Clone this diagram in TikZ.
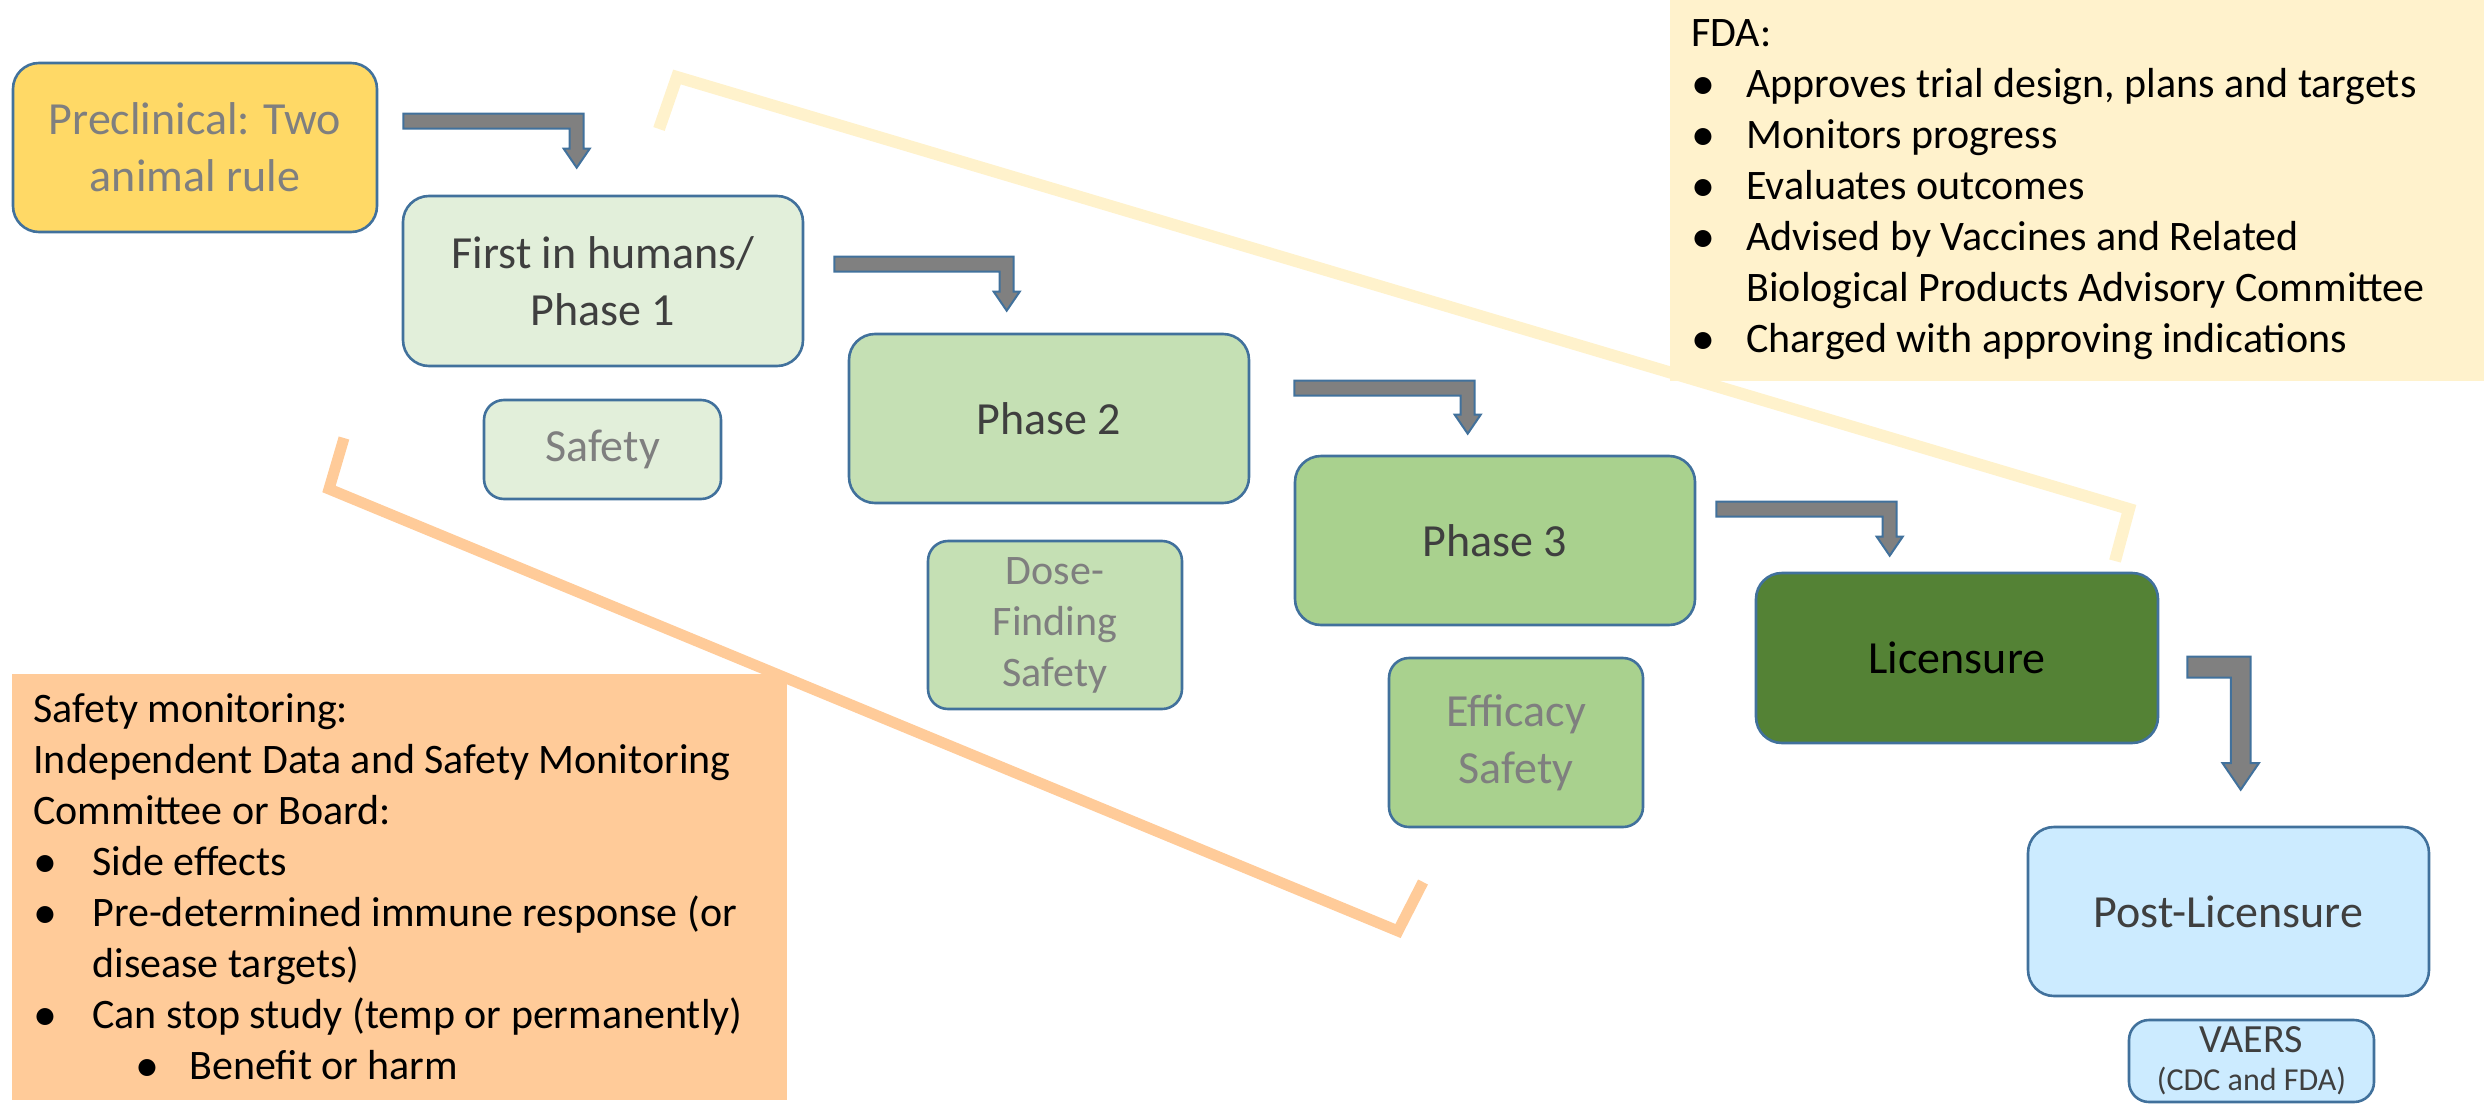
\documentclass[tikz,border=0pt]{standalone}
\usepackage{fontspec}
\setmainfont{Carlito}
\usetikzlibrary{calc}

\definecolor{bordo}{HTML}{41719C}
\definecolor{grigiofreccia}{HTML}{808080}
\definecolor{testogrigio}{HTML}{7F7F7F}
\definecolor{testoscuro}{HTML}{3F3F3F}
\definecolor{giallo}{HTML}{FFD966}
\definecolor{verde1}{HTML}{E2EFDA}
\definecolor{verde2}{HTML}{C5E0B4}
\definecolor{verde3}{HTML}{A9D18E}
\definecolor{verde4}{HTML}{548235}
\definecolor{azzurro}{HTML}{CCEBFF}
\definecolor{crema}{HTML}{FFF2CC}
\definecolor{arancio}{HTML}{FFCB99}

\tikzset{
  stage/.style={draw=bordo, line width=1.3pt, rounded corners=13pt, align=center,
    inner sep=0pt, font=\fontsize{23}{28.5}\selectfont},
  tag/.style={stage, rounded corners=10pt},
  stairs/.style={fill=grigiofreccia, draw=bordo, line width=1pt},
  bracket/.style={line width=5.5pt, line join=miter},
  note/.style={anchor=north west, inner sep=0pt, font=\fontsize{21}{25.5}\selectfont}
}

% pallino degli elenchi
\newcommand{\pallino}{\raisebox{-1pt}{\fontsize{24}{25.5}\selectfont •}}

% freccia a gradino: sorgente, destinazione, scarto x, scarto y, punta x, punta y, scala
\newcommand{\stairarrow}[7]{%
  \path[stairs] let \p1=($(#1.north east)+(#3,#4)$),
                    \p2=($(#2.north west)+(#5,-#6)$) in
    (\x1,\y1) -- ({\x2+#7*3.5pt},\y1) -- ({\x2+#7*3.5pt},{\y2+#7*9.5pt})
    -- ({\x2+#7*6.5pt},{\y2+#7*9.5pt}) -- (\x2,\y2)
    -- ({\x2-#7*6.5pt},{\y2+#7*9.5pt}) -- ({\x2-#7*3.5pt},{\y2+#7*9.5pt})
    -- ({\x2-#7*3.5pt},{\y1-#7*7.5pt}) -- (\x1,{\y1-#7*7.5pt}) -- cycle;
}

\begin{document}
\begin{tikzpicture}[x=0.5pt,y=-0.5pt]
        \useasboundingbox (0,0) rectangle (2484,1103);

        % Riquadri delle note
        \fill[crema] (1670,0) rectangle (2484,381);
        \fill[arancio] (12,674) rectangle (787,1100);

        % Punti delle parentesi
        \coordinate (Y1) at (659,129);
        \coordinate (Y2) at (677,77);
        \coordinate (Y3) at (2129,509);
        \coordinate (Y4) at (2115,561);
        \coordinate (O1) at (344,438);
        \coordinate (O2) at (329,489);
        \coordinate (O3) at (1398,931);
        \coordinate (O4) at (1423,882);

        % Disegno delle parentesi
        \draw[bracket, crema, line width=6pt] (Y1) -- (Y2) -- (Y3) -- (Y4);
        \draw[bracket, arancio] (O1) -- (O2) -- (O3) -- (O4);

        % Fasi
        \node[stage, fill=giallo, text=testogrigio, minimum width=182pt, minimum height=84.5pt]
          (prec) at (195,147.5) {Preclinical: Two\\animal rule};
        \node[stage, fill=verde1, text=testoscuro, minimum width=200pt, minimum height=85pt]
          (fase1) at (603,281) {First in humans/\\Phase 1};
        \node[tag, fill=verde1, text=testogrigio, minimum width=118.5pt, minimum height=49.5pt]
          (sic1) at (602.5,449.5) {Safety};
        \node[stage, fill=verde2, text=testoscuro, minimum width=200pt, minimum height=84.5pt]
          (fase2) at (1049,418.5) {Phase 2};
        \node[tag, fill=verde2, text=testogrigio, minimum width=127pt, minimum height=84pt,
          font=\fontsize{21}{25.5}\selectfont]
          (dose) at (1055,625) {Dose-\\Finding\\Safety};
        \node[stage, fill=verde3, text=testoscuro, minimum width=200pt, minimum height=84.5pt]
          (fase3) at (1495,540.5) {Phase 3};
        \node[tag, fill=verde3, text=testogrigio, minimum width=127pt, minimum height=84.5pt]
          (eff) at (1516,742.5) {Efficacy\\Safety};
        \node[stage, fill=verde4, text=black, minimum width=201pt, minimum height=85pt]
          (lic) at (1957,658) {Licensure};
        \node[stage, fill=azzurro, text=testoscuro, minimum width=200.5pt, minimum height=84.5pt]
          (post) at (2228.5,911.5) {Post-Licensure};
        \node[tag, fill=azzurro, text=testoscuro, minimum width=122.5pt, minimum height=41pt,
          font=\fontsize{20}{22}\selectfont]
          (vaers) at (2251.5,1061) {VAERS\\[-3pt]{\fontsize{16}{18}\selectfont (CDC and FDA)}};

        % Frecce
        \stairarrow{prec}{fase1}{25}{52}{175}{27}{1}
        \stairarrow{fase1}{fase2}{30}{62}{159}{22}{1}
        \stairarrow{fase2}{fase3}{44}{48}{174}{21}{1}
        \stairarrow{fase3}{lic}{20}{47}{135}{16}{1}
        \stairarrow{lic}{post}{28}{85}{214}{36}{1.4}

        % Testi delle note
        \node[note] (fda) at (1691,10.3) {%
          \begin{tabular}{@{}p{27.5pt}@{}l@{}}
            \multicolumn{2}{@{}l@{}}{FDA:}\\
            \pallino & Approves trial design, plans and targets\\
            \pallino & Monitors progress\\
            \pallino & Evaluates outcomes\\
            \pallino & Advised by Vaccines and Related\\
                     & Biological Products Advisory Committee\\
            \pallino & Charged with approving indications
          \end{tabular}};
        \node[note] (dsmb) at (33,686.3) {%
          \begin{tabular}{@{}p{29.5pt}@{}l@{}}
            \multicolumn{2}{@{}l@{}}{Safety monitoring:}\\
            \multicolumn{2}{@{}l@{}}{Independent Data and Safety Monitoring}\\
            \multicolumn{2}{@{}l@{}}{Committee or Board:}\\
            \pallino & Side effects\\
            \pallino & Pre-determined immune response (or\\
                     & disease targets)\\
            \pallino & Can stop study (temp or permanently)\\
                     & \hspace{21.5pt}\makebox[27pt][l]{\pallino}Benefit or harm
          \end{tabular}};
      \end{tikzpicture}
\end{document}
